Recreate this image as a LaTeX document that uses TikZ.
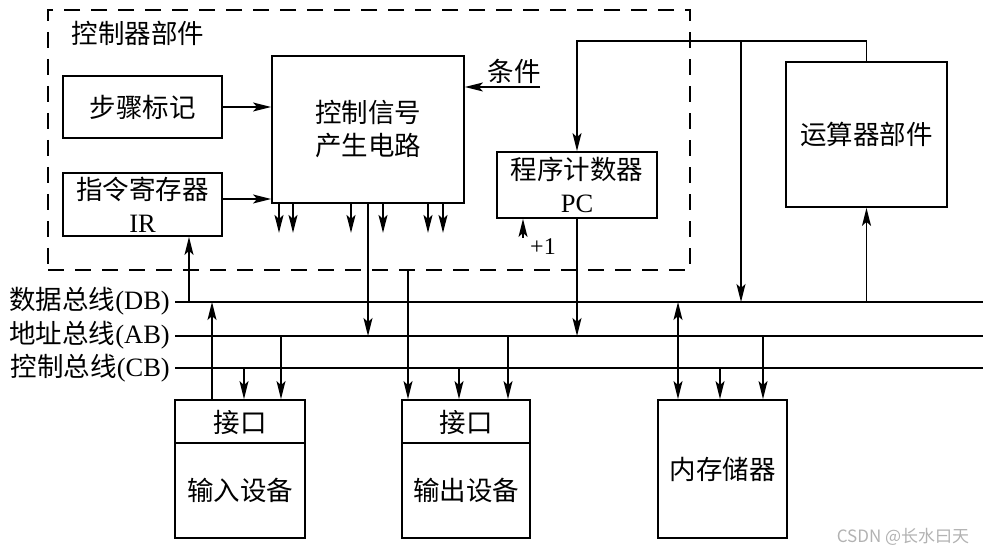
\documentclass[tikz,border=0pt]{standalone}
\usepackage{fontspec}
\setmainfont{Liberation Serif}
\newfontfamily\zh{Noto Sans CJK SC}
\usetikzlibrary{arrows.meta}
\begin{document}
\begin{tikzpicture}[x=1pt,y=-1pt,
  every node/.style={font=\fontsize{26.5}{33}\selectfont, inner sep=0pt, align=center},
  box/.style={draw, line width=1.8pt},
  conn/.style={line width=1.5pt},
  arr/.style={conn, -{Stealth[length=18pt,width=9pt,inset=4pt]}},
  darr/.style={conn, {Stealth[length=18pt,width=9pt,inset=4pt]}-{Stealth[length=18pt,width=9pt,inset=4pt]}},
  bus/.style={line width=1.6pt},
  unit/.style={draw, line width=1.6pt, dash pattern=on 16pt off 11pt}]
\useasboundingbox (0,0) rectangle (994,556);

% control unit (dashed)
\node[unit, minimum width=642pt, minimum height=260pt] (cu) at (369,140) {};
\node (cut) at (138,33) {\zh 控制器部件};

% boxes
\node[box, minimum width=159pt, minimum height=62pt] (step) at (142.5,107) {\zh 步骤标记};
\node[box, minimum width=159pt, minimum height=63pt] (ir) at (142.5,204.5) {{\zh 指令寄存器}\\IR};
\node[box, minimum width=192pt, minimum height=147pt] (csg) at (368,129.5) {{\zh 控制信号}\\{\zh 产生电路}};
\node[box, minimum width=160pt, minimum height=66pt] (pc) at (577,185) {{\zh 程序计数器}\\PC};
\node[box, minimum width=161pt, minimum height=145pt] (alu) at (866.5,134.5) {\zh 运算器部件};

% devices
\node[box, minimum width=130pt, minimum height=138pt] (inb) at (240,469) {};
\node (inbt) at (240,422) {\zh 接口};
\node (inbb) at (240,490) {\zh 输入设备};
\coordinate (insep) at (240,443);
\draw[box] (insep -| inb.west) -- (insep -| inb.east);

\node[box, minimum width=128pt, minimum height=138pt] (outb) at (466,469) {};
\node (outbt) at (466,422) {\zh 接口};
\node (outbb) at (466,490) {\zh 输出设备};
\coordinate (outsep) at (466,443);
\draw[box] (outsep -| outb.west) -- (outsep -| outb.east);

\node[box, minimum width=129pt, minimum height=138pt] (mem) at (722.5,469) {\zh 内存储器};

% buses
\node[anchor=east] (dbl) at (170,301) {{\zh 数据总线}(DB)};
\node[anchor=east] (abl) at (170,335) {{\zh 地址总线}(AB)};
\node[anchor=east] (cbl) at (170,368) {{\zh 控制总线}(CB)};
\coordinate (dbL) at (175,302); \coordinate (dbR) at (983,302);
\coordinate (abL) at (175,336); \coordinate (abR) at (983,336);
\coordinate (cbL) at (175,368); \coordinate (cbR) at (983,368);
\draw[bus] (dbL) -- (dbR);
\draw[bus] (abL) -- (abR);
\draw[bus] (cbL) -- (cbR);

% inside control unit
\draw[arr] (step.east) -- (step.east -| csg.west);
\coordinate (irR) at (222,199);
\draw[arr] (irR) -- (irR -| csg.west);
\node (cond) at (514,71) {\zh 条件};
\coordinate (condR) at (540,87);
\draw[arr] (condR) -- (condR -| csg.east);
\foreach \dx in {-89,-75,-17,15,60,75}
  \draw[arr] ([xshift=\dx pt]csg.south) -- ++(0,29);
\draw[arr] (csg.south) -- (csg.south |- abL);

% PC and ALU
\draw[arr] (alu.north) -- ++(0,-20) -| (pc.north);
\coordinate (j) at (741,42);
\draw[arr] (j) -- (j |- dbL);
\draw[arr] (alu.south |- dbL) -- (alu.south);
\coordinate (inc) at (523,238);
\draw[arr] (inc) -- (inc |- pc.south);
\node[font=\fontsize{24}{28}\selectfont] (plus) at (543,247) {+1};
\draw[arr] (pc.south) -- (pc.south |- abL);

% DB -> IR
\coordinate (irIn) at (189,302);
\draw[arr] (irIn) -- (irIn |- ir.south);

% input device
\coordinate (i1) at (212,302);
\draw[arr] (i1 |- inb.north) -- (i1);
\coordinate (i2) at (244,368);
\draw[arr] (i2) -- (i2 |- inb.north);
\coordinate (i3) at (281,336);
\draw[arr] (i3) -- (i3 |- inb.north);

% output device
\coordinate (o1) at (408,270);
\draw[arr] (o1) -- (o1 |- outb.north);
\coordinate (o2) at (459,368);
\draw[arr] (o2) -- (o2 |- outb.north);
\coordinate (o3) at (508,336);
\draw[arr] (o3) -- (o3 |- outb.north);

% memory
\coordinate (m1) at (678,302);
\draw[darr] (m1) -- (m1 |- mem.north);
\coordinate (m2) at (720,368);
\draw[arr] (m2) -- (m2 |- mem.north);
\coordinate (m3) at (763,336);
\draw[arr] (m3) -- (m3 |- mem.north);

% watermark
\node[text=gray!60, font=\fontsize{17}{20}\selectfont\zh] (wm) at (903,537) {CSDN @长水曰天};
\end{tikzpicture}
\end{document}
